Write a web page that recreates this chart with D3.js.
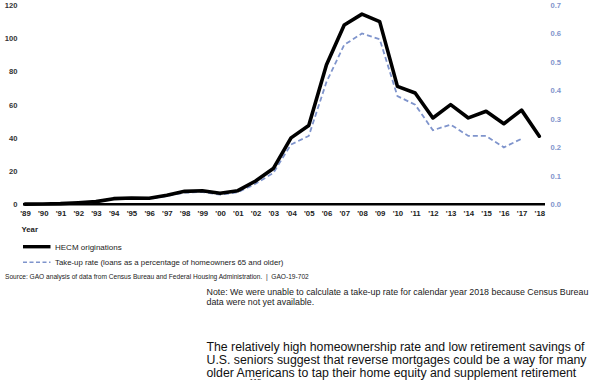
<!DOCTYPE html>
<html>
<head>
<meta charset="utf-8">
<script src="https://cdn.jsdelivr.net/npm/d3@7"></script>
<style>
  html, body { margin: 0; padding: 0; background: #fff; }
  svg { display: block; font-family: "Liberation Sans", Arial, sans-serif; }
</style>
</head>
<body>
<svg id="chart" width="600" height="380"></svg>
<script>
const years = [1989,1990,1991,1992,1993,1994,1995,1996,1997,1998,1999,2000,2001,2002,2003,
               2004,2005,2006,2007,2008,2009,2010,2011,2012,2013,2014,2015,2016,2017,2018];
// HECM originations (thousands)
const hecm = [0.1,0.2,0.4,0.9,1.6,3.4,3.8,3.6,5.5,7.8,8.2,6.6,8.2,14,21.5,
              40,47.5,84,108,114.5,110,71,67,52,60,52,56,48.5,56.7,41];
// Take-up rate (percent), 1989-2017
const takeup = [0,0.001,0.002,0.005,0.008,0.018,0.02,0.019,0.029,0.041,0.043,0.034,0.042,0.072,0.11,
                0.21,0.24,0.43,0.56,0.60,0.58,0.38,0.35,0.26,0.28,0.24,0.24,0.20,0.23];
const leftTicks = [0,20,40,60,80,100,120];
const rightTicks = [0,0.1,0.2,0.3,0.4,0.5,0.6,0.7];
const legendLabels = ["HECM originations", "Take-up rate (loans as a percentage of homeowners 65 and older)"];
const sourceText = "Source: GAO analysis of data from Census Bureau and Federal Housing Administration.  |  GAO-19-702";
const noteLines = ["Note: We were unable to calculate a take-up rate for calendar year 2018 because Census Bureau",
                   "data were not yet available."];
const bodyLines = ["The relatively high homeownership rate and low retirement savings of",
                   "U.S. seniors suggest that reverse mortgages could be a way for many",
                   "older Americans to tap their home equity and supplement retirement"];

const BLUE = "#7f94cc";
const svg = d3.select("#chart");

const x = d3.scaleLinear().domain([1989, 2018]).range([25, 539.3]);
const yL = d3.scaleLinear().domain([0, 120]).range([204.3, 5]);
const yR = d3.scaleLinear().domain([0, 0.7]).range([204.3, 5]);

// Left axis
const gl = svg.append("g").attr("transform", "translate(17.5,0)")
  .call(d3.axisLeft(yL).tickValues(leftTicks).tickSize(0).tickPadding(0).tickFormat(d3.format("d")));
gl.select(".domain").remove();
gl.selectAll("text").attr("font-size", 7.6).attr("font-weight", "bold").attr("fill", "#333")
  .attr("font-family", "Liberation Sans, Arial, sans-serif");

// Right axis
const gr = svg.append("g").attr("transform", "translate(550.5,0)")
  .call(d3.axisRight(yR).tickValues(rightTicks).tickSize(0).tickPadding(0).tickFormat(d3.format(".1f")));
gr.select(".domain").remove();
gr.selectAll("text").attr("font-size", 7.6).attr("font-weight", "bold").attr("fill", BLUE)
  .attr("font-family", "Liberation Sans, Arial, sans-serif");

// Bottom axis labels
const gx = svg.append("g").attr("transform", "translate(0,210)")
  .call(d3.axisBottom(x).tickValues(years).tickSize(0).tickPadding(0)
        .tickFormat(d => "'" + String(d).slice(2)));
gx.select(".domain").remove();
gx.selectAll("text").attr("font-size", 7.8).attr("font-weight", "bold").attr("fill", "#222")
  .attr("font-family", "Liberation Sans, Arial, sans-serif");

// Baseline
svg.append("line").attr("x1", 23).attr("x2", 545).attr("y1", yL(0)).attr("y2", yL(0))
  .attr("stroke", "#000").attr("stroke-width", 2.6);

// Year label
svg.append("text").attr("x", 21.5).attr("y", 232).attr("font-size", 7.8).attr("font-weight", "bold")
  .attr("fill", "#222").text("Year");

// Take-up line
svg.append("path").datum(takeup)
  .attr("fill", "none").attr("stroke", BLUE).attr("stroke-width", 1.8)
  .attr("stroke-dasharray", "5,3")
  .attr("d", d3.line().x((d, i) => x(years[i])).y(d => yR(d)));

// HECM line
svg.append("path").datum(hecm)
  .attr("fill", "none").attr("stroke", "#000").attr("stroke-width", 3.6)
  .attr("stroke-linejoin", "round").attr("stroke-linecap", "round")
  .attr("d", d3.line().x((d, i) => x(years[i])).y(d => yL(d)));

// Legend
svg.append("line").attr("x1", 23).attr("x2", 50.5).attr("y1", 246.7).attr("y2", 246.7)
  .attr("stroke", "#000").attr("stroke-width", 3.4);
svg.append("text").attr("x", 55).attr("y", 249.5).attr("font-size", 8).attr("fill", "#222").text(legendLabels[0]);
svg.append("line").attr("x1", 23).attr("x2", 50.5).attr("y1", 262.3).attr("y2", 262.3)
  .attr("stroke", BLUE).attr("stroke-width", 1.5).attr("stroke-dasharray", "4,2.5");
svg.append("text").attr("x", 55).attr("y", 265.2).attr("font-size", 7.8).attr("fill", "#222").text(legendLabels[1]);

// Source
svg.append("text").attr("x", 5).attr("y", 278.5).attr("font-size", 6.6).attr("fill", "#222")
  .style("white-space", "pre").text(sourceText);

// Note
noteLines.forEach((t, i) => {
  svg.append("text").attr("x", 206.5).attr("y", 294.5 + i * 10.5).attr("font-size", 8.85)
    .attr("fill", "#222").text(t);
});

// Body paragraph
bodyLines.forEach((t, i) => {
  svg.append("text").attr("x", 206.5).attr("y", 351 + i * 13).attr("font-size", 12.3)
    .attr("fill", "#111").text(t);
});
const last = svg.append("text").attr("x", 206.5).attr("y", 388.5).attr("font-size", 12.3).attr("fill", "#111");
last.append("tspan").text("income.");
last.append("tspan").attr("font-size", 7.5).attr("dy", -5).text("115");
last.append("tspan").attr("dy", 5).text(" However, the popularity of reverse mortgages has declined in");
</script>
</body>
</html>
